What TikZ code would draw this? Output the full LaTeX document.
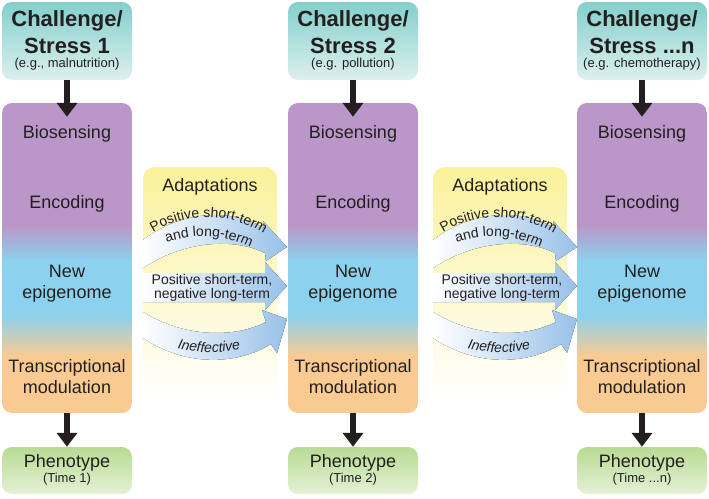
\documentclass[tikz,border=0pt]{standalone}
\usepackage{fontspec}
\setmainfont{Liberation Sans}
\usetikzlibrary{arrows.meta,decorations.text}

\definecolor{stresstop}{HTML}{84CFCB}
\definecolor{stressbot}{HTML}{DCF0EE}
\definecolor{purplecol}{HTML}{BA97C8}
\definecolor{bluecol}{HTML}{8CD1EE}
\definecolor{orangecol}{HTML}{F9CB92}
\definecolor{phentop}{HTML}{B8DB93}
\definecolor{phenbot}{HTML}{E4F1D6}
\definecolor{adapttop}{HTML}{FAF19A}
\definecolor{bandblue}{HTML}{98C1E8}
\definecolor{txt}{HTML}{231F20}

\begin{document}
\begin{tikzpicture}[x=1pt,y=-1pt,
  stressbox/.style={rounded corners=10pt,minimum width=130pt,minimum height=78pt,
    inner sep=0pt,top color=stresstop,bottom color=stressbot},
  phenobox/.style={rounded corners=10pt,minimum width=130pt,minimum height=47pt,
    inner sep=0pt,top color=phentop,bottom color=phenbot},
  mainbox/.style={rounded corners=10pt,minimum width=130pt,minimum height=310pt,
    inner sep=0pt,path picture={
    \def\bb{path picture bounding box}
    \fill[sharp corners,purplecol] (\bb.north west) rectangle ([yshift=-123pt]\bb.north east);
    \shade[sharp corners,top color=purplecol,bottom color=bluecol]
      ([yshift=-122pt]\bb.north west) rectangle ([yshift=-158pt]\bb.north east);
    \fill[sharp corners,bluecol] ([yshift=-157pt]\bb.north west) rectangle ([yshift=-213pt]\bb.north east);
    \shade[sharp corners,top color=bluecol,bottom color=orangecol]
      ([yshift=-212pt]\bb.north west) rectangle ([yshift=-253pt]\bb.north east);
    \fill[sharp corners,orangecol] ([yshift=-252pt]\bb.north west) rectangle (\bb.south east);}},
  adaptbox/.style={rounded corners=12pt,minimum width=134pt,minimum height=235pt,
    inner sep=0pt,top color=adapttop,middle color=adapttop!50,bottom color=white},
  flow/.style={line width=6pt,draw=txt,-{Triangle[width=20pt,length=14pt]}},
  band/.style={left color=white,right color=bandblue},
  ttl/.style={font=\fontsize{22}{24}\selectfont\bfseries,text=txt,inner sep=0pt,anchor=base},
  sub/.style={font=\fontsize{13}{15}\selectfont,text=txt,inner sep=0pt,anchor=base},
  lbl/.style={font=\fontsize{18}{20}\selectfont,text=txt,inner sep=0pt,anchor=base},
  small/.style={font=\fontsize{14}{16}\selectfont,text=txt,inner sep=0pt,anchor=base}]

  \fill[white] (0,0) rectangle (709,498);
  \useasboundingbox (0,0) rectangle (709,498);

  \foreach \i/\cx/\num/\eg/\tm in {1/67/1/{(e.g., malnutrition)}/1,
      2/353/2/{(e.g. pollution)}/2,3/642/{...n}/{(e.g. chemotherapy)}/{...n}} {
    \node[stressbox] (s\i) at (\cx,41) {};
    \node[mainbox] (m\i) at (\cx,258) {};
    \node[phenobox] (p\i) at (\cx,470.5) {};
    \node[ttl] (sa\i) at (\cx,26) {Challenge/};
    \node[ttl] (sb\i) at (\cx,53) {Stress \num};
    \node[sub] (se\i) at (\cx,67) {\eg};
    \node[lbl] (bio\i) at (\cx,138) {Biosensing};
    \node[lbl] (enc\i) at (\cx,208) {Encoding};
    \node[lbl] (new\i) at (\cx,277) {New};
    \node[lbl] (epi\i) at (\cx,298) {epigenome};
    \node[lbl] (tra\i) at (\cx,372) {Transcriptional};
    \node[lbl] (mod\i) at (\cx,393) {modulation};
    \node[lbl] (ph\i) at (\cx,467) {Phenotype};
    \node[sub] (pt\i) at (\cx,482) {(Time \tm)};
    \draw[flow] (s\i.south) -- ([yshift=-14pt]m\i.north);
    \draw[flow] (m\i.south) -- (p\i.north);
  }

  \foreach \j/\dx in {1/0,2/290} {
    \begin{scope}[xshift=\dx pt]
      \node[adaptbox] (a\j) at (210,284.5) {};
      \node[lbl] (at\j) at (210,191) {Adaptations};
      \fill[band] (143,240) .. controls (185,208) and (235,210) .. (264,228)
        -- (263,221) -- (287,247) -- (266,261) -- (265,253)
        .. controls (235,238) and (185,240) .. (143,268) -- cycle;
      \fill[band] (143,273) -- (265,273) -- (265,262) -- (287,286)
        -- (265,310) -- (265,302) -- (143,302) -- cycle;
      \fill[band] (143,312) .. controls (185,338) and (235,338) .. (266,322)
        -- (262,310) -- (287,319) -- (277,353) -- (271,344)
        .. controls (235,366) and (185,366) .. (143,338) -- cycle;
      \path[decorate,decoration={text along path,text align=center,
        text={|\fontsize{14}{16}\selectfont\color{txt}|Positive short-term}}]
        (145,238) .. controls (180,210) and (236,210) .. (272,240);
      \path[decorate,decoration={text along path,text align=center,
        text={|\fontsize{14}{16}\selectfont\color{txt}|and long-term}}]
        (163,244) .. controls (190,233) and (225,233) .. (254,249);
      \node[small] (pa\j) at (212,284) {Positive short-term,};
      \node[small] (pb\j) at (212,298) {negative long-term};
      \path[decorate,decoration={text along path,text align=center,
        text={|\fontsize{14}{16}\selectfont\itshape\color{txt}|Ineffective}}]
        (172,347) .. controls (196,354) and (220,354) .. (246,348);
    \end{scope}
  }
\end{tikzpicture}
\end{document}
